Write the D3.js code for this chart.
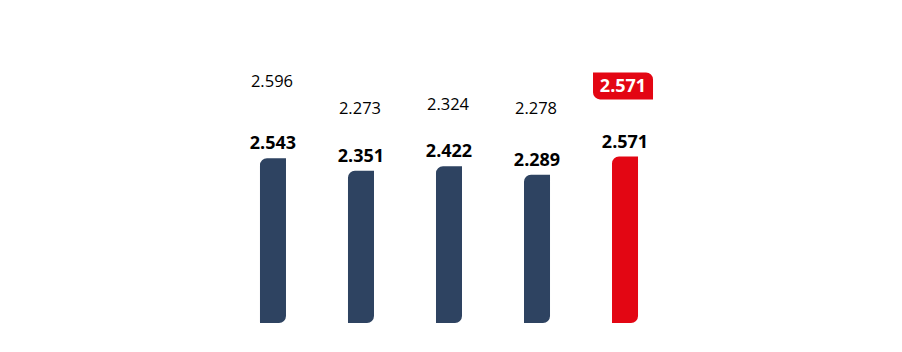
<!DOCTYPE html>
<html lang="de">
<head>
    <meta charset="UTF-8">
    <title>Balken</title>
    <script src="https://d3js.org/d3.v7.min.js"></script>
    <style>
        * { margin: 0; padding: 0; box-sizing: border-box; }
        body { background: #fff; font-family: "Open Sans", Arial, sans-serif; }
        .val { font-size: 18px; font-weight: bold; fill: #000; text-anchor: middle; }
        .prev { font-size: 16.5px; fill: #000; text-anchor: middle; }
        .badge-text { font-size: 18px; font-weight: bold; fill: #fff; text-anchor: middle; }
    </style>
</head>
<body>
    <div id="chart"></div>
    <script>
        const Width = 902;
        const Height = 352;

        // Daten
        const categories = ["1", "2", "3", "4", "5"];
        const currentValues = [2543, 2351, 2422, 2289, 2571];
        const previousValues = [2596, 2273, 2324, 2278, 2571];
        const highlightIndex = 4;

        const NavyColor = "#2e4361";
        const RedColor = "#e30613";

        const locale = d3.formatLocale({ decimal: ",", thousands: ".", grouping: [3], currency: ["", " €"] });
        const FormatNum = locale.format(",");

        const svg = d3.select("#chart").append("svg")
            .attr("width", Width)
            .attr("height", Height);

        const x = d3.scaleBand()
            .domain(categories)
            .range([229, 669])
            .paddingInner(0.7045)
            .paddingOuter(0.352);

        const y = d3.scaleLinear()
            .domain([0, 2571])
            .range([323, 156.5]);

        // zweite Skala fuer die Vorjahreswerte (nur Beschriftung)
        const yPrev = d3.scaleLinear()
            .domain([2000, 3000])
            .range([136.6, 53.9]);

        // Balken mit abgerundeter Ecke oben links und unten rechts
        function leafPath(x0, y0, w, h, r) {
            return `M${x0},${y0 + r}` +
                `A${r},${r} 0 0 1 ${x0 + r},${y0}` +
                `H${x0 + w}` +
                `V${y0 + h - r}` +
                `A${r},${r} 0 0 1 ${x0 + w - r},${y0 + h}` +
                `H${x0}Z`;
        }
        // Badge: abgerundet oben rechts und unten links
        function badgePath(x0, y0, w, h, r) {
            return `M${x0},${y0}` +
                `H${x0 + w - r}` +
                `A${r},${r} 0 0 1 ${x0 + w},${y0 + r}` +
                `V${y0 + h}` +
                `H${x0 + r}` +
                `A${r},${r} 0 0 1 ${x0},${y0 + h - r}Z`;
        }

        svg.selectAll(".bar")
            .data(currentValues)
            .enter()
            .append("path")
            .attr("class", "bar")
            .attr("d", (d, i) => leafPath(x(categories[i]), y(d), x.bandwidth(), y(0) - y(d), 7))
            .attr("fill", (d, i) => i === highlightIndex ? RedColor : NavyColor);

        svg.selectAll(".val")
            .data(currentValues)
            .enter()
            .append("text")
            .attr("class", "val")
            .attr("x", (d, i) => x(categories[i]) + x.bandwidth() / 2)
            .attr("y", d => y(d) - 9)
            .text(d => FormatNum(d));

        previousValues.forEach((d, i) => {
            const cx = x(categories[i]) + x.bandwidth() / 2 - 1;
            if (i === highlightIndex) {
                const bw = 60, bh = 27;
                const by = yPrev(d) + 2.5;
                svg.append("path")
                    .attr("d", badgePath(cx - 1 - bw / 2, by - 19.5, bw, bh, 7))
                    .attr("fill", RedColor);
                svg.append("text")
                    .attr("class", "badge-text")
                    .attr("x", cx - 1)
                    .attr("y", by)
                    .text(FormatNum(d));
            } else {
                svg.append("text")
                    .attr("class", "prev")
                    .attr("x", cx)
                    .attr("y", yPrev(d))
                    .text(FormatNum(d));
            }
        });
    </script>
</body>
</html>
